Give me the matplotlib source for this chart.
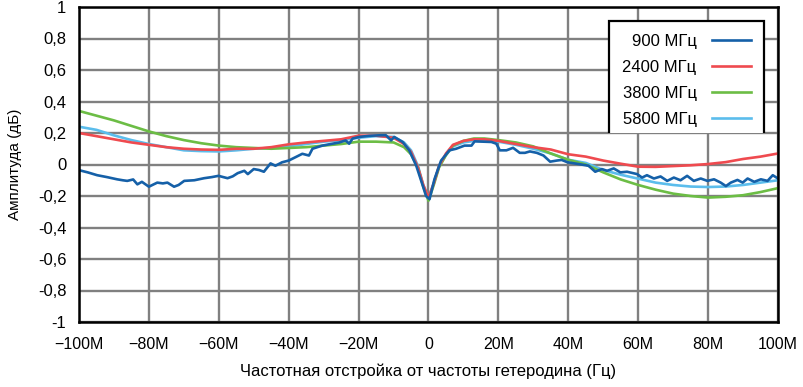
import matplotlib
matplotlib.use('Agg')
import matplotlib.pyplot as plt
from matplotlib.transforms import Bbox
from matplotlib.ticker import FixedLocator, FuncFormatter

# Частоты гетеродина и цвета
labels = ['900 МГц', '2400 МГц', '3800 МГц', '5800 МГц']
colors = ['#1560a8', '#ef4a4f', '#6cbd45', '#5bbdec']

# 900 МГц (шумная кривая)
f_900 = [-100, -97.5, -94.8, -92, -89.1, -87.5, -86.2, -84.5, -83.3, -82, -80, -79, -77.6, -76,
         -74.7, -72.8, -71.5, -69.9, -67, -64.2, -62, -60.1, -57.5, -56, -54.6, -52.7, -51.7, -50,
         -48.5, -47.1, -45.2, -43.8, -41.9, -40, -38, -36.1, -34.2, -33.2, -30.4, -27.5, -25.5,
         -23.7, -22.7, -21.7, -19.8, -17, -14.5, -12.2, -10.7, -9.8, -7.4, -5.5, -3.5, -1.6, -0.7,
         0.3, 1.7, 3.6, 6.0, 7.9, 10.3, 12.3, 13.2, 18, 19.4, 20.4, 22.3, 24.2, 26.1, 27.6, 29, 31,
         32.9, 34.8, 36.7, 38.1, 39.8, 42.9, 45.8, 47.7, 49.6, 51.1, 53, 54.9, 56.8, 59.7, 61.1,
         62.5, 64.5, 66.4, 68.3, 70.2, 72.1, 74, 75.9, 77.9, 79.8, 81.7, 83.6, 85.1, 86.5, 88.4,
         89.9, 91.3, 93.2, 95.1, 97, 98.5, 100]
a_900 = [-0.036, -0.05, -0.068, -0.08, -0.094, -0.1, -0.104, -0.095, -0.126, -0.11, -0.141, -0.13,
         -0.115, -0.12, -0.115, -0.141, -0.13, -0.104, -0.1, -0.087, -0.08, -0.072, -0.087, -0.075,
         -0.055, -0.04, -0.061, -0.029, -0.035, -0.046, 0.007, -0.008, 0.014, 0.025, 0.047, 0.068,
         0.057, 0.1, 0.12, 0.132, 0.14, 0.153, 0.132, 0.165, 0.175, 0.182, 0.185, 0.186, 0.153,
         0.175, 0.143, 0.09, -0.008, -0.137, -0.2, -0.22, -0.094, 0.025, 0.09, 0.1, 0.12, 0.12,
         0.147, 0.143, 0.132, 0.09, 0.09, 0.106, 0.074, 0.074, 0.083, 0.074, 0.057, 0.018, 0.025,
         0.029, 0.014, 0.003, -0.008, -0.046, -0.029, -0.04, -0.025, -0.05, -0.046, -0.061, -0.083,
         -0.068, -0.089, -0.076, -0.104, -0.083, -0.1, -0.072, -0.104, -0.089, -0.104, -0.094,
         -0.115, -0.137, -0.115, -0.098, -0.115, -0.089, -0.11, -0.094, -0.104, -0.068, -0.089]

# остальные частоты (гладкие кривые)
f_smooth = [-100, -95, -90, -85, -80, -75, -70, -65, -60, -55, -50, -45, -40, -35, -30, -25, -20,
            -15, -10, -7, -5, -3, -1.5, 0, 1.5, 3, 5, 7, 10, 13, 16, 20, 25, 30, 35, 40, 45, 50,
            55, 60, 65, 70, 75, 80, 85, 90, 95, 100]
a_2400 = [0.20, 0.18, 0.16, 0.14, 0.125, 0.11, 0.10, 0.095, 0.093, 0.10, 0.10, 0.11, 0.128, 0.14,
          0.15, 0.16, 0.183, 0.183, 0.17, 0.13, 0.08, -0.02, -0.13, -0.21, -0.12, -0.01, 0.07,
          0.125, 0.15, 0.16, 0.16, 0.15, 0.13, 0.11, 0.095, 0.065, 0.05, 0.025, 0.005, -0.014,
          -0.015, -0.01, -0.005, 0.003, 0.015, 0.035, 0.05, 0.07]
a_3800 = [0.34, 0.31, 0.28, 0.245, 0.21, 0.18, 0.155, 0.135, 0.12, 0.11, 0.105, 0.10, 0.105, 0.11,
          0.12, 0.13, 0.145, 0.145, 0.14, 0.11, 0.065, -0.02, -0.14, -0.23, -0.13, -0.02, 0.06,
          0.12, 0.15, 0.165, 0.165, 0.155, 0.14, 0.115, 0.07, 0.03, 0.0, -0.05, -0.095, -0.13,
          -0.16, -0.185, -0.2, -0.21, -0.205, -0.195, -0.175, -0.15]
a_5800 = [0.24, 0.22, 0.185, 0.155, 0.13, 0.11, 0.09, 0.085, 0.083, 0.09, 0.10, 0.105, 0.115, 0.13,
          0.145, 0.155, 0.17, 0.18, 0.175, 0.14, 0.09, -0.01, -0.13, -0.21, -0.12, -0.01, 0.06,
          0.115, 0.14, 0.15, 0.15, 0.145, 0.125, 0.1, 0.07, 0.03, 0.01, -0.035, -0.065, -0.09,
          -0.115, -0.13, -0.14, -0.143, -0.14, -0.13, -0.115, -0.1]

x_ticks = [-100, -80, -60, -40, -20, 0, 20, 40, 60, 80, 100]
y_ticks = [-1, -0.8, -0.6, -0.4, -0.2, 0, 0.2, 0.4, 0.6, 0.8, 1]

plt.rcParams['font.family'] = ['Liberation Sans', 'DejaVu Sans']

fig = plt.figure(figsize=(8.04, 3.87), dpi=100)
ax = fig.add_axes([79 / 804, 1 - 322 / 387, 699 / 804, 315 / 387])

series = [(f_900, a_900), (f_smooth, a_2400), (f_smooth, a_3800), (f_smooth, a_5800)]
# рисуем в обратном порядке, чтобы 900 МГц был сверху
for i in [3, 2, 1, 0]:
    fx, fy = series[i]
    ax.plot(fx, fy, color=colors[i], lw=1.9, label=labels[i], zorder=3 + (3 - i))

ax.set_xlim(-100, 100)
ax.set_ylim(-1, 1)
ax.xaxis.set_major_locator(FixedLocator(x_ticks))
ax.yaxis.set_major_locator(FixedLocator(y_ticks))
ax.xaxis.set_major_formatter(FuncFormatter(lambda v, p: '0' if v == 0 else ('\u2212%dM' % -v if v < 0 else '%dM' % v)))
ax.yaxis.set_major_formatter(FuncFormatter(lambda v, p: ('%g' % round(v, 1)).replace('.', ',')))
ax.grid(True, color='#808080', lw=1.7, zorder=1)
ax.set_axisbelow(True)
ax.tick_params(length=0)
ax.tick_params(axis='y', labelsize=12, pad=9)
ax.tick_params(axis='x', labelsize=11.5, pad=11)
for s in ax.spines.values():
    s.set_linewidth(1.8)
    s.set_color('black')
    s.set_zorder(10)

ax.set_ylabel('Амплитуда (дБ)', fontsize=11)
ax.yaxis.set_label_coords(-0.082, 0.5)
ax.set_xlabel('Частотная отстройка от частоты гетеродина (Гц)', fontsize=12, labelpad=8)

handles, labs = ax.get_legend_handles_labels()
order = [labs.index(l) for l in labels]
leg = ax.legend([handles[k] for k in order], labels, loc='upper right',
                bbox_to_anchor=(0.98, 0.956), borderaxespad=0, markerfirst=False,
                fancybox=False, framealpha=1, edgecolor='black', fontsize=12,
                handlelength=2.35, handletextpad=0.9, labelspacing=0.66, borderpad=0.8)
leg.get_frame().set_linewidth(1.6)
leg.set_zorder(20)
# низ легенды обрезан сеткой, как в исходнике
clip = Bbox.from_extents(0, 387 - 133, 804, 387)
leg.get_frame().set_clip_box(clip)
leg.get_frame().set_clip_on(True)

fig.savefig('out.png', dpi=100)
